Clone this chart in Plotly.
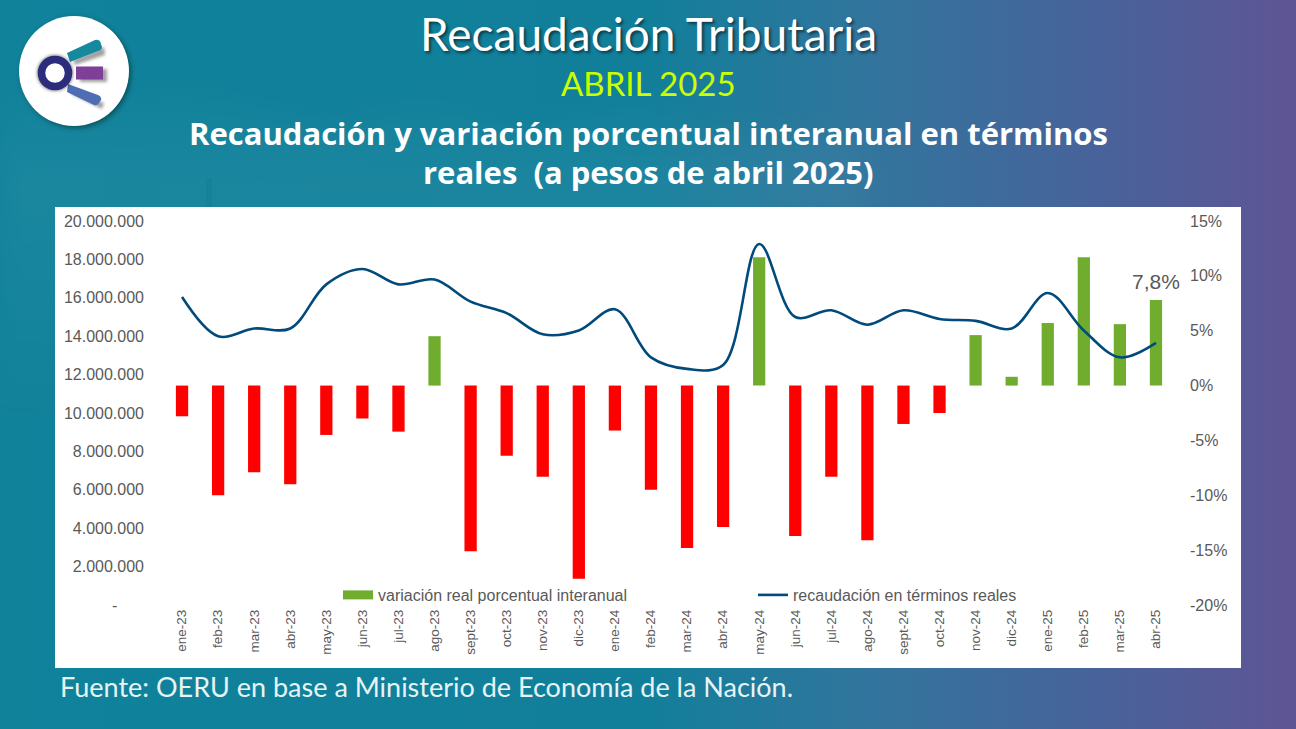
import base64
import plotly.graph_objects as go

W, H = 1296, 729

categories = ["ene-23","feb-23","mar-23","abr-23","may-23","jun-23","jul-23","ago-23","sept-23","oct-23","nov-23","dic-23",
              "ene-24","feb-24","mar-24","abr-24","may-24","jun-24","jul-24","ago-24","sept-24","oct-24","nov-24","dic-24",
              "ene-25","feb-25","mar-25","abr-25"]
variacion = [-2.8,-10.0,-7.9,-9.0,-4.5,-3.0,-4.2,4.5,-15.1,-6.4,-8.3,-17.6,
             -4.1,-9.5,-14.8,-12.9,11.7,-13.7,-8.3,-14.1,-3.5,-2.5,4.6,0.8,
             5.7,11.7,5.6,7.8]
recaudacion = [16040000,14000000,14400000,14400000,16700000,17500000,16700000,16950000,15800000,15200000,14100000,14300000,
               15400000,12900000,12300000,12500000,18800000,15000000,15350000,14600000,15350000,14900000,14800000,14400000,
               16250000,14300000,12900000,13650000]
left_ticks = [0,2000000,4000000,6000000,8000000,10000000,12000000,14000000,16000000,18000000,20000000]
left_labels = ["-\u00a0\u00a0\u00a0\u00a0\u00a0\u00a0"] + [f"{v:,}".replace(",", ".") for v in left_ticks[1:]]
right_ticks = [-20,-15,-10,-5,0,5,10,15]
right_labels = [f"{v}%" for v in right_ticks]

GREEN = "#70AD2F"
RED = "#FF0000"
NAVY = "#004A7C"
GREY = "#595959"
FONT = "Liberation Sans"
TITLE_FONT = "Lato"

svg = f'''<svg xmlns="http://www.w3.org/2000/svg" width="{W}" height="{H}" viewBox="0 0 {W} {H}" preserveAspectRatio="none">
<defs>
<linearGradient id="g" x1="0" y1="0" x2="1" y2="0">
<stop offset="0" stop-color="#10829A"/><stop offset="0.5" stop-color="#127F9A"/>
<stop offset="0.68" stop-color="#33749D"/><stop offset="0.85" stop-color="#48629A"/><stop offset="1" stop-color="#5F5595"/></linearGradient>
<linearGradient id="l" x1="0" y1="0" x2="0" y2="1"><stop offset="0" stop-color="#ffffff" stop-opacity="0"/><stop offset="0.3" stop-color="#ffffff" stop-opacity="0.045"/><stop offset="1" stop-color="#ffffff" stop-opacity="0"/></linearGradient>
<filter id="s" x="-30%" y="-30%" width="160%" height="160%"><feGaussianBlur stdDeviation="2.5"/></filter>
<filter id="b" x="-30%" y="-30%" width="160%" height="160%"><feGaussianBlur stdDeviation="1.5"/></filter>
<filter id="w" x="-10%" y="-10%" width="120%" height="120%"><feGaussianBlur stdDeviation="14"/></filter>
</defs>
<rect width="{W}" height="{H}" fill="url(#g)"/>
<path d="M0 85 L70 95 L150 80 L240 108 L330 130 L420 95 L520 130 L640 110 L760 135 L860 130 V420 H0 Z" fill="url(#l)" filter="url(#w)"/>
<rect x="206" y="178" width="6" height="29" fill="#0a6680" opacity="0.15"/>
<circle cx="76" cy="73" r="55" fill="#033" opacity="0.6" filter="url(#s)"/>
<circle cx="74" cy="71" r="55" fill="#ffffff"/>
<g opacity="0.45" filter="url(#b)" transform="translate(4 3)">
<path d="M69 57 L100 44 L101 52 L71 62 Z" fill="#333"/><rect x="76" y="66" width="27" height="13" fill="#333"/><path d="M68 88 L100 100 L98 106 L67 91 Z" fill="#333"/>
</g>
<path d="M67 53 L95 40 Q100 39 101 44 L102 47 Q102 50 98 51 L70 62 Z" fill="#17899E"/>
<rect x="76" y="66.5" width="27" height="13" fill="#7D3F97"/>
<path d="M68 84 L98 95 Q102 97 101 100 L99 103 Q97 106 94 105 L67 92 Z" fill="#4F6DB5"/>
<circle cx="55" cy="73" r="18" fill="#222" opacity="0.55" filter="url(#b)"/>
<circle cx="55" cy="73" r="13.5" fill="#ffffff" stroke="#2B2C7C" stroke-width="7.5"/>
</svg>'''
bg_uri = "data:image/svg+xml;base64," + base64.b64encode(svg.encode()).decode()

fig = go.Figure()
fig.add_trace(go.Bar(x=categories, y=variacion, yaxis="y", showlegend=False,
                     marker=dict(color=[GREEN if v > 0 else RED for v in variacion], line_width=0),
                     width=0.34))
fig.add_trace(go.Scatter(x=categories[:1], y=[None], yaxis="y", mode="lines",
                         name="variación real porcentual interanual",
                         line=dict(color=GREEN, width=9)))
fig.add_trace(go.Scatter(x=categories, y=recaudacion, yaxis="y2", mode="lines",
                         name="recaudación en términos reales",
                         line=dict(color=NAVY, width=2.6, shape="spline", smoothing=1.0)))

def title(text, y, size, color="#FFFFFF", x=648, anchor="center", family=TITLE_FONT, weight="normal", shadow="none"):
    return dict(text=text, xref="paper", yref="paper", x=x / W, y=1 - y / H, xanchor=anchor, yanchor="middle",
                showarrow=False,
                font=dict(family=family, size=size, color=color, weight=weight, shadow=shadow))

annotations = [
    title("Recaudación Tributaria", 34, 46, shadow="2px 2px 3px rgba(0,0,0,0.55)"),
    title("ABRIL 2025", 83, 33, color="#CCFF00"),
    title("Recaudación y variación porcentual interanual en términos", 133, 31, weight="bold", family="Open Sans"),
    title("reales  (a pesos de abril 2025)", 172, 31, weight="bold", family="Open Sans"),
    title("Fuente: OERU en base a Ministerio de Economía de la Nación.", 686, 27, x=58, anchor="left", color="#E6F4F5"),
    dict(text="7,8%", x=categories[-1], y=variacion[-1], xref="x", yref="y", yshift=18, showarrow=False,
         yanchor="middle", font=dict(family=FONT, size=21, color=GREY)),
]

fig.update_layout(
    width=W, height=H, autosize=False, margin=dict(l=0, r=0, t=0, b=0, autoexpand=False),
    paper_bgcolor="rgba(0,0,0,0)", plot_bgcolor="rgba(0,0,0,0)",
    images=[dict(source=bg_uri, xref="paper", yref="paper", x=0, y=1, sizex=1, sizey=1,
                 xanchor="left", yanchor="top", sizing="stretch", layer="below")],
    shapes=[dict(type="rect", xref="paper", yref="paper", x0=55 / W, x1=1241 / W, y0=1 - 668 / H, y1=1 - 207 / H,
                 fillcolor="#FFFFFF", line_width=0, layer="below")],
    annotations=annotations,
    xaxis=dict(domain=[164 / W, 1174 / W], type="category", categoryorder="array", categoryarray=categories,
               range=[-0.5, 27.5], tickangle=-90, ticks="", showgrid=False, showline=False, zeroline=False,
               tickfont=dict(family=FONT, size=13.5, color=GREY), ticklabelstandoff=1),
    yaxis=dict(domain=[1 - 605 / H, 1 - 221 / H], side="right", range=[-20, 15], tickvals=right_ticks, ticktext=right_labels,
               showgrid=False, zeroline=False, showline=False, ticks="",
               tickfont=dict(family=FONT, size=16, color=GREY), ticklabelstandoff=15),
    yaxis2=dict(overlaying="y", side="left", range=[0, 20000000], tickvals=left_ticks, ticktext=left_labels,
                showgrid=False, zeroline=False, showline=False, ticks="",
                tickfont=dict(family=FONT, size=16, color=GREY), ticklabelstandoff=19),
    legend=dict(orientation="h", x=338 / W, y=1 - 595 / H, xanchor="left", yanchor="middle",
                entrywidth=370, entrywidthmode="pixels", bgcolor="rgba(0,0,0,0)",
                font=dict(family=FONT, size=16, color=GREY), itemwidth=30),
    bargap=0.66, showlegend=True,
)

fig.write_html("out.html", config=dict(displayModeBar=False),
               post_script="document.body.style.margin='0';document.body.style.overflow='hidden';")
